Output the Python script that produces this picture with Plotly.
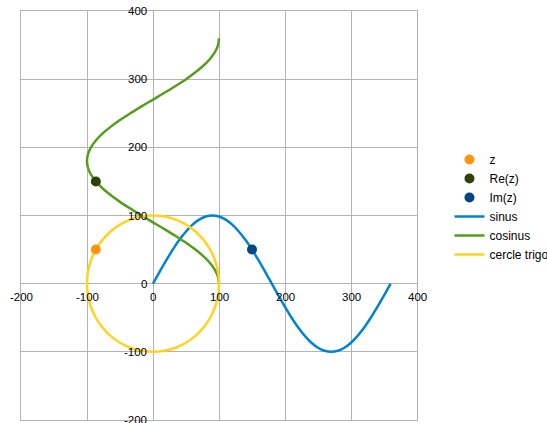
import plotly.graph_objects as go

# Angles in degrees and the corresponding values of 100*sin and 100*cos
angles = [0, 10, 20, 30, 40, 50, 60, 70, 80, 90, 100, 110, 120, 130, 140, 150, 160, 170, 180,
          190, 200, 210, 220, 230, 240, 250, 260, 270, 280, 290, 300, 310, 320, 330, 340, 350, 360]
sin_vals = [0, 17.4, 34.2, 50.0, 64.3, 76.6, 86.6, 94.0, 98.5, 100.0, 98.5, 94.0, 86.6, 76.6, 64.3,
            50.0, 34.2, 17.4, 0, -17.4, -34.2, -50.0, -64.3, -76.6, -86.6, -94.0, -98.5, -100.0,
            -98.5, -94.0, -86.6, -76.6, -64.3, -50.0, -34.2, -17.4, 0]
cos_vals = [100.0, 98.5, 94.0, 86.6, 76.6, 64.3, 50.0, 34.2, 17.4, 0, -17.4, -34.2, -50.0, -64.3,
            -76.6, -86.6, -94.0, -98.5, -100.0, -98.5, -94.0, -86.6, -76.6, -64.3, -50.0, -34.2,
            -17.4, 0, 17.4, 34.2, 50.0, 64.3, 76.6, 86.6, 94.0, 98.5, 100.0]

# The highlighted angle (150 degrees) and its projections
z_point = (-86.6, 50.0)
re_point = (-86.6, 150.0)
im_point = (150.0, 50.0)

tick_vals = [-200, -100, 0, 100, 200, 300, 400]
tick_text = ["-200", "-100", "0", "100", "200", "300", "400"]

GRID = "#b3b3b3"
FONT = "Liberation Sans"

fig = go.Figure()

fig.add_trace(go.Scatter(x=angles, y=sin_vals, mode="lines", name="sinus",
                         line=dict(color="#0084d1", width=2.5, shape="spline"), legendrank=4))
fig.add_trace(go.Scatter(x=cos_vals, y=angles, mode="lines", name="cosinus",
                         line=dict(color="#579d1c", width=2.5, shape="spline"), legendrank=5))
fig.add_trace(go.Scatter(x=cos_vals, y=sin_vals, mode="lines", name="cercle trigo",
                         line=dict(color="#ffd320", width=2.5, shape="spline"), legendrank=6))

fig.add_trace(go.Scatter(x=[z_point[0]], y=[z_point[1]], mode="markers", name="z",
                         marker=dict(color="#ff950e", size=10), legendrank=1))
fig.add_trace(go.Scatter(x=[re_point[0]], y=[re_point[1]], mode="markers", name="Re(z)",
                         marker=dict(color="#314004", size=10), legendrank=2))
fig.add_trace(go.Scatter(x=[im_point[0]], y=[im_point[1]], mode="markers", name="Im(z)",
                         marker=dict(color="#004586", size=10), legendrank=3))

axis_common = dict(
    range=[-200, 400], tickmode="array", tickvals=tick_vals,
    showgrid=True, gridcolor=GRID, gridwidth=1,
    zeroline=True, zerolinecolor=GRID, zerolinewidth=1,
    showline=True, linecolor=GRID, linewidth=1, mirror=True,
    ticks="", showticklabels=False,
)

# Axes cross at the origin: tick labels sit along the zero lines
tick_font = dict(family=FONT, size=11.5, color="#000")
annotations = []
for v, t in zip(tick_vals, tick_text):
    annotations.append(dict(x=v, y=0, xref="x", yref="y", text=t, showarrow=False,
                            xanchor="center", yanchor="top", yshift=-5, font=tick_font))
    annotations.append(dict(x=0, y=v, xref="x", yref="y", text=t, showarrow=False,
                            xanchor="right", yanchor="middle", xshift=-4, font=tick_font))

fig.update_layout(
    width=547, height=423,
    margin=dict(l=21, r=130, t=11, b=3, autoexpand=False),
    paper_bgcolor="white", plot_bgcolor="white",
    xaxis=dict(**axis_common),
    yaxis=dict(**axis_common),
    annotations=annotations,
    showlegend=True,
    legend=dict(x=1.082, y=(420 - 145) / 409, xanchor="left", yanchor="top",
                font=dict(family=FONT, size=12, color="#000"),
                tracegroupgap=0, bgcolor="rgba(0,0,0,0)"),
)

fig.write_html("out.html")
